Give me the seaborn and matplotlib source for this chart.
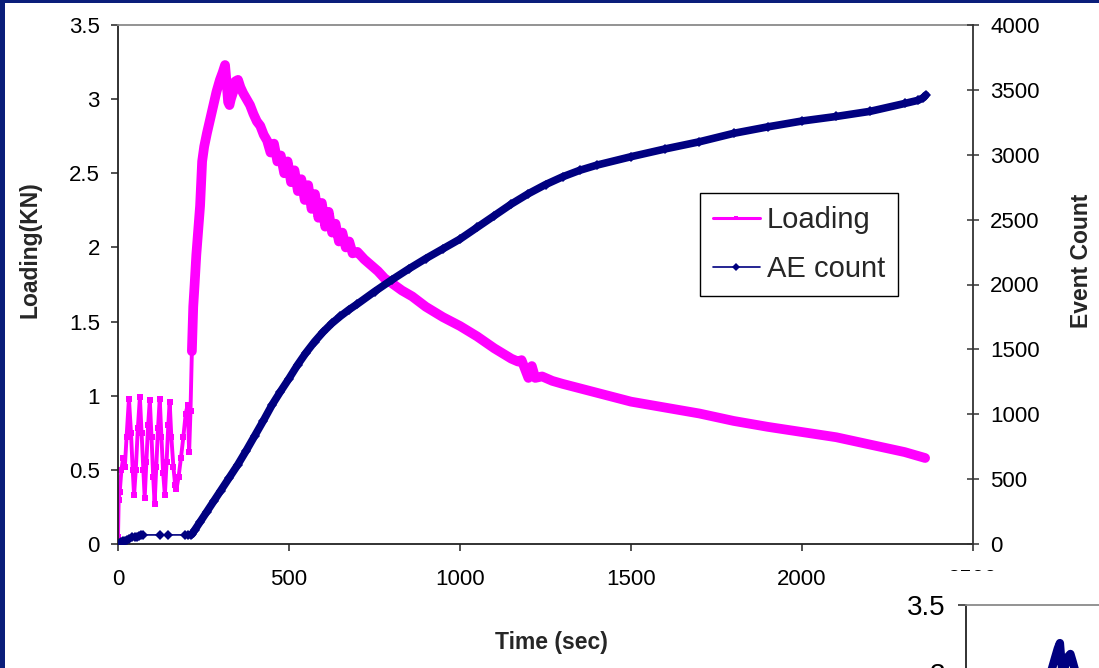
import matplotlib
matplotlib.use("Agg")
import matplotlib.pyplot as plt
from matplotlib.lines import Line2D
from matplotlib.patches import Rectangle
import seaborn as sns
import pandas as pd

# ---------------- data ----------------
load_time = [0, 2, 5, 10, 15, 20, 25, 32, 38, 43, 47, 52, 58, 64, 69, 74, 78, 83, 88, 93,
             98, 103, 107, 112, 117, 122, 127, 132, 137, 142, 147, 151, 156, 162, 167, 171,
             177, 184, 191, 198, 204, 208, 212, 216,
             220, 224, 229, 234, 240, 246, 252, 260, 268, 278, 288, 298, 306, 313, 318, 322,
             326, 330, 337, 343, 351, 358, 366, 376, 386, 396, 406,
             416, 426, 436, 446, 456, 466, 476, 486, 496, 506, 516, 526, 536, 546, 556, 566,
             576, 586, 596, 606, 616, 626, 636, 646, 656, 666, 676, 686, 700, 720, 740, 760,
             780, 800,
             830, 860, 900, 950, 1000, 1050, 1100, 1150, 1170, 1180, 1190, 1200, 1210, 1220,
             1240, 1270, 1300, 1350, 1400, 1450, 1500, 1600, 1700, 1800, 1900, 2000, 2100,
             2200, 2300, 2360]
load_kn = [0.05, 0.30, 0.35, 0.50, 0.58, 0.52, 0.72, 0.98, 0.75, 0.50, 0.33, 0.50, 0.78, 0.99,
           0.75, 0.50, 0.31, 0.55, 0.80, 0.97, 0.72, 0.45, 0.27, 0.52, 0.78, 0.98, 0.72, 0.48,
           0.33, 0.55, 0.80, 0.96, 0.72, 0.52, 0.40, 0.37, 0.45, 0.58, 0.72, 0.88, 0.94, 0.62,
           0.90, 1.30,
           1.60, 1.75, 1.95, 2.10, 2.28, 2.58, 2.68, 2.77, 2.85, 2.95, 3.05, 3.13, 3.18, 3.23,
           3.10, 2.98, 2.96, 3.00, 3.05, 3.12, 3.13, 3.08, 3.04, 3.00, 2.96, 2.90, 2.85,
           2.82, 2.76, 2.72, 2.64, 2.70, 2.58, 2.62, 2.50, 2.58, 2.44, 2.52, 2.38, 2.46, 2.32,
           2.42, 2.26, 2.36, 2.20, 2.30, 2.14, 2.24, 2.10, 2.16, 2.04, 2.10, 2.00, 2.04, 1.96,
           1.97, 1.92, 1.88, 1.84, 1.79, 1.76,
           1.71, 1.67, 1.60, 1.53, 1.47, 1.40, 1.32, 1.25, 1.23, 1.24, 1.18, 1.12, 1.20, 1.12,
           1.13, 1.10, 1.08, 1.05, 1.02, 0.99, 0.96, 0.92, 0.88, 0.83, 0.79, 0.755, 0.72,
           0.67, 0.62, 0.58]

ae_time = [0, 5, 10, 15, 20, 26, 32, 41, 50, 56, 62, 68, 73, 123, 146, 196, 205, 212,
           216, 225, 240, 260, 280, 300, 325, 350, 375, 400, 425, 450, 475, 500, 525, 550,
           575, 600, 625, 650, 675, 700, 750, 800, 850, 900, 950, 1000, 1050, 1100, 1150,
           1200, 1250, 1300, 1350, 1400, 1500, 1600, 1700, 1800, 1900, 2000, 2100, 2200,
           2300, 2340, 2355, 2362]
ae_count = [0, 5, 12, 20, 25, 32, 42, 55, 55, 52, 62, 68, 70, 70, 70, 70, 70, 72,
            75, 110, 170, 250, 330, 410, 510, 610, 720, 835, 950, 1070, 1175, 1275, 1380,
            1475, 1560, 1635, 1700, 1755, 1805, 1850, 1945, 2035, 2120, 2200, 2275, 2350,
            2440, 2530, 2620, 2700, 2770, 2830, 2880, 2920, 2985, 3045, 3100, 3165, 3215,
            3260, 3295, 3335, 3395, 3420, 3440, 3460]

inset_time = [255, 270, 285, 298, 306, 313, 318, 323, 330, 340, 348, 356, 366, 380, 400]
inset_load = [2.70, 2.90, 3.02, 3.12, 3.18, 3.22, 3.08, 2.98, 3.05, 3.12, 3.14, 3.08, 3.00,
              2.92, 2.82]

x_ticks = [0, 500, 1000, 1500, 2000, 2500]
x_labels = ["0", "500", "1000", "1500", "2000", "2500"]
y_ticks = [0, 0.5, 1, 1.5, 2, 2.5, 3, 3.5]
y_labels = ["0", "0.5", "1", "1.5", "2", "2.5", "3", "3.5"]
y2_ticks = [0, 500, 1000, 1500, 2000, 2500, 3000, 3500, 4000]
y2_labels = ["0", "500", "1000", "1500", "2000", "2500", "3000", "3500", "4000"]
series_names = ["Loading", "AE count"]

# ---------------- style ----------------
sns.set_theme(style="white")
plt.rcParams["font.family"] = ["Liberation Sans", "DejaVu Sans"]

MAG = "#FF00FF"
NAVY = "#000080"
W, H = 1099, 668
TICK_FS = 16
LABEL_FS = 16.5

fig = plt.figure(figsize=(W / 100, H / 100), dpi=100)
fig.patch.set_facecolor("white")

L, R, T, B = 118, 973, 25, 544
ax = fig.add_axes([L / W, 1 - B / H, (R - L) / W, (B - T) / H])
ax2 = ax.twinx()

df_load = pd.DataFrame({"t": load_time, "v": load_kn})
df_ae = pd.DataFrame({"t": ae_time, "v": ae_count})

# Loading series: thin with markers, plus a thicker band for the dense part
sns.lineplot(data=df_load, x="t", y="v", ax=ax, color=MAG, lw=2.8, marker="s",
             markersize=4.5, markeredgewidth=0, estimator=None, sort=False, legend=False)
sns.lineplot(data=df_load[df_load["t"] >= 214], x="t", y="v", ax=ax, color=MAG, lw=7,
             estimator=None, sort=False, legend=False, solid_capstyle="round")

# AE count series
sns.lineplot(data=df_ae, x="t", y="v", ax=ax2, color=NAVY, lw=1.2, marker="D",
             markersize=5, markeredgewidth=0, estimator=None, sort=False, legend=False)
sns.lineplot(data=df_ae[df_ae["t"] >= 212], x="t", y="v", ax=ax2, color=NAVY, lw=5.5,
             estimator=None, sort=False, legend=False, solid_capstyle="round")

ax.set_xlim(0, 2500)
ax.set_ylim(0, 3.5)
ax2.set_ylim(0, 4000)
ax.set_xticks(x_ticks)
ax.set_xticklabels(x_labels)
ax.set_yticks(y_ticks)
ax.set_yticklabels(y_labels)
ax2.set_yticks(y2_ticks)
ax2.set_yticklabels(y2_labels)

ax.grid(False)
ax2.grid(False)
for a in (ax, ax2):
    for s in a.spines.values():
        s.set_visible(False)
ax.spines["left"].set_visible(True)
ax.spines["bottom"].set_visible(True)
ax.spines["top"].set_visible(True)
ax2.spines["right"].set_visible(True)
ax.spines["left"].set_color("#222222")
ax.spines["bottom"].set_color("#222222")
ax.spines["top"].set_color("#8a8a8a")
ax2.spines["right"].set_color("#333333")
for s in (ax.spines["left"], ax.spines["bottom"], ax.spines["top"], ax2.spines["right"]):
    s.set_linewidth(1.3)

ax.tick_params(axis="x", which="both", direction="out", length=5, width=1.1,
               color="#222222", labelsize=TICK_FS, pad=13, labelcolor="black",
               bottom=True, top=False)
ax.tick_params(axis="y", direction="out", length=5, width=1.1, color="#222222",
               labelsize=TICK_FS, pad=8, labelcolor="black", left=True, right=False)
ax2.tick_params(axis="y", direction="inout", length=9, width=1.1, color="#333333",
                labelsize=TICK_FS, pad=8, labelcolor="black", right=True, left=False)

ax.set_xlabel("Time (sec)", fontsize=LABEL_FS, fontweight="bold", va="center")
ax.xaxis.set_label_coords((551 - L) / (R - L), -(643 - B) / (B - T))
ax.set_ylabel("Loading(KN)", fontsize=LABEL_FS, fontweight="bold", va="center")
ax.yaxis.set_label_coords((30 - L) / (R - L), (B - 250) / (B - T))
ax2.set_ylabel("Event Count", fontsize=LABEL_FS, fontweight="bold", va="center", rotation=90)
ax2.yaxis.set_label_coords((1082 - L) / (R - L), (B - 261) / (B - T))

handles = [Line2D([], [], color=MAG, lw=2.2, marker="s", markersize=3.5, markeredgewidth=0),
           Line2D([], [], color=NAVY, lw=1.2, marker="D", markersize=4.5, markeredgewidth=0)]
leg = ax2.legend(handles, series_names, loc="upper left",
                 bbox_to_anchor=((700 - L) / (R - L), (B - 193) / (B - T)),
                 fontsize=21, frameon=True, fancybox=False, framealpha=1,
                 edgecolor="black", handlelength=1.6, handletextpad=0.25,
                 borderpad=0.45, labelspacing=0.72, borderaxespad=0, numpoints=1)
leg.get_frame().set_linewidth(1.0)

# navy frame strips of the slide
fig.patches.append(Rectangle((0, 0), 5 / W, 1, transform=fig.transFigure,
                             facecolor="#0A1E7A", edgecolor="none", zorder=20))
fig.patches.append(Rectangle((0, 1 - 3 / H), 1, 3 / H, transform=fig.transFigure,
                             facecolor="#0A1E7A", edgecolor="none", zorder=20))

# overlapping second chart (white box + partial axes)
fig.patches.append(Rectangle((870 / W, 0), (W - 870) / W, (H - 571) / H,
                             transform=fig.transFigure, facecolor="white",
                             edgecolor="none", zorder=5))
IL, IT, IW, IH = 966, 605, 750, 476
ax3 = fig.add_axes([IL / W, (H - IT - IH) / H, IW / W, IH / H], zorder=10)
sns.lineplot(x=inset_time, y=inset_load, ax=ax3, color=NAVY, lw=6, estimator=None,
             sort=False, legend=False)
ax3.set_xlim(0, 2500)
ax3.set_ylim(0, 3.5)
ax3.set_yticks(y_ticks)
ax3.set_yticklabels(y_labels)
ax3.set_xticks([])
ax3.grid(False)
for k, s in ax3.spines.items():
    s.set_visible(k in ("left", "top"))
ax3.spines["left"].set_color("#222222")
ax3.spines["top"].set_color("#8a8a8a")
ax3.spines["left"].set_linewidth(1.3)
ax3.spines["top"].set_linewidth(1.3)
ax3.tick_params(axis="y", direction="out", length=6, width=1.1, color="#222222",
                labelsize=20, pad=9, labelcolor="black", left=True)
ax3.set_xlabel("")
ax3.set_ylabel("")

fig.savefig("out.png", dpi=100)
